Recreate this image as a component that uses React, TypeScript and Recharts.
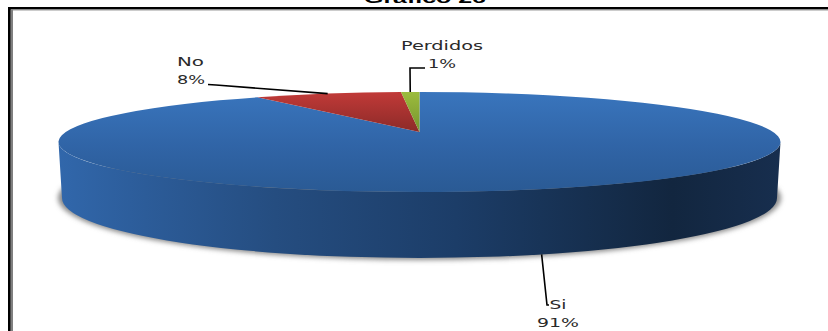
import React from "react";
import { PieChart, Pie } from "recharts";

// Survey answers, in the order they run clockwise from twelve o'clock.
const answers = ["Si", "No", "Perdidos"];
const shares = [91, 8, 1];
const fills = ["url(#topBlue)", "url(#topRed)", "url(#topGreen)"];
const chartTitle = "Gráfico 26";

const tableData = answers.map((name, i) => ({ name, value: shares[i], fill: fills[i] }));

// Disc geometry: a tilted cylinder seen in perspective.
const CX = 419.5;
const CY = 142;
const RX = 361;
const RY = 50;
const TILT = 0.2; // how far the disc's true centre sits behind the ellipse centre
const BASE_CY = 198;
const BASE_RX = 357.5;
const BASE_RY = 60;

const LABEL_FONT = "'DejaVu Sans', sans-serif";

// Text placement for each callout, and how its leader line bends.
const callouts: Record<string, any> = {
  Si: { nameX: 558, nameY: 309, nameW: 17, valueX: 558, valueY: 327, valueW: 42, elbow: [547, 305], end: [549, 305], onBase: true },
  No: { nameX: 190.5, nameY: 66, nameW: 27, valueX: 191, valueY: 84, valueW: 28, elbow: [216, 85], end: [208, 84.5], onBase: false },
  Perdidos: { nameX: 442, nameY: 50, nameW: 82, valueX: 442, valueY: 68, valueW: 28, elbow: [410, 68], end: [425, 68], onBase: false },
};

// Projects a pie angle onto the rim, keeping the disc's perspective.
function rimPoint(angleDeg: number) {
  const a = (angleDeg * Math.PI) / 180;
  const px = Math.cos(a);
  const py = Math.sin(a);
  const d = 1 + TILT * py;
  return {
    ux: (px * Math.sqrt(1 - TILT * TILT)) / d,
    uy: (py + TILT) / d,
  };
}

function GradientDefs() {
  return (
    <defs>
      <linearGradient id="topBlue" gradientUnits="userSpaceOnUse" x1="0" y1={CY - RY} x2="0" y2={CY + RY}>
        <stop offset="0" stopColor="#3975bd" />
        <stop offset="0.55" stopColor="#3064a6" />
        <stop offset="1" stopColor="#2a5a94" />
      </linearGradient>
      <linearGradient id="topRed" x1="0" y1="0" x2="0" y2="1">
        <stop offset="0" stopColor="#c13a38" />
        <stop offset="1" stopColor="#8c2a28" />
      </linearGradient>
      <linearGradient id="topGreen" x1="0" y1="0" x2="0" y2="1">
        <stop offset="0" stopColor="#9cbc3e" />
        <stop offset="1" stopColor="#76942e" />
      </linearGradient>
      <linearGradient id="wallBlue" gradientUnits="userSpaceOnUse" x1={CX - RX} y1="0" x2={CX + RX} y2="0">
        <stop offset="0" stopColor="#3167ab" />
        <stop offset="0.12" stopColor="#2c5c99" />
        <stop offset="0.3" stopColor="#254d80" />
        <stop offset="0.55" stopColor="#1c3d68" />
        <stop offset="0.85" stopColor="#12263f" />
        <stop offset="1" stopColor="#172e4e" />
      </linearGradient>
      <filter id="softShadow" x="-5%" y="-30%" width="110%" height="160%">
        <feGaussianBlur stdDeviation="2.5" />
      </filter>
    </defs>
  );
}

// Draws one slice as an elliptical wedge; the first slice also carries the
// cylinder wall and its shadow, so everything else lands on top of them.
function DiscSlice(props: any) {
  const { startAngle, endAngle, fill, index, name } = props;
  const s = rimPoint(startAngle);
  const e = rimPoint(endAngle);
  const t0 = Math.atan2(s.uy, s.ux);
  const t1 = Math.atan2(e.uy, e.ux);
  let sweep = ((t0 - t1) * 180) / Math.PI;
  while (sweep < 0) sweep += 360;
  const large = sweep > 180 ? 1 : 0;
  const apexY = CY - RY * TILT;
  const d = `M${CX},${apexY} L${CX + RX * s.ux},${CY - RY * s.uy} A${RX},${RY} 0 ${large} 1 ${CX + RX * e.ux},${CY - RY * e.uy} Z`;
  const first = index === 0 || name === answers[0];
  const wall = `M${CX - RX},${CY} L${CX - BASE_RX},${BASE_CY} A${BASE_RX},${BASE_RY} 0 0 0 ${CX + BASE_RX},${BASE_CY} L${CX + RX},${CY} A${RX},${RY} 0 0 1 ${CX - RX},${CY} Z`;
  return (
    <g>
      {first && (
        <>
          <GradientDefs />
          <ellipse cx={CX} cy={BASE_CY} rx={BASE_RX + 4} ry={BASE_RY + 2} fill="#8a8a8a" filter="url(#softShadow)" />
          <path d={wall} fill="url(#wallBlue)" />
        </>
      )}
      <path d={d} fill={fill} />
    </g>
  );
}

// Two-line callout with its leader line, anchored at the slice's mid angle.
function Callout(props: any) {
  const { name, midAngle, percent } = props;
  const c = callouts[name];
  if (!c) return null;
  const p = rimPoint(midAngle);
  const ax = CX + RX * p.ux;
  const ay = c.onBase
    ? BASE_CY + BASE_RY * Math.sqrt(1 - ((ax - CX) / BASE_RX) ** 2)
    : CY - RY * p.uy;
  const text = { fontFamily: LABEL_FONT, fontSize: 13, fill: "#2a2a2a", textAnchor: "middle" as const, lengthAdjust: "spacingAndGlyphs" as const };
  return (
    <g>
      <polyline
        points={`${ax},${ay} ${c.elbow[0]},${c.elbow[1]} ${c.end[0]},${c.end[1]}`}
        fill="none"
        stroke="#000"
        strokeWidth={1.6}
      />
      <text {...text} x={c.nameX} y={c.nameY} textLength={c.nameW}>{name}</text>
      <text {...text} x={c.valueX} y={c.valueY} textLength={c.valueW}>{`${Math.round(percent * 100)}%`}</text>
    </g>
  );
}

export default function App() {
  return (
    <div style={{ position: "absolute", left: 0, top: 0, width: 828, height: 331, background: "#fff" }}>
      <PieChart width={828} height={331} margin={{ top: 0, right: 0, bottom: 0, left: 0 }}>
        <rect x={8} y={7} width={820} height={2.4} fill="#000" />
        <rect x={8} y={7} width={2.7} height={324} fill="#000" />
        <rect x={11} y={9.4} width={817} height={1} fill="#808080" />
        <rect x={11} y={9.4} width={2} height={322} fill="#808080" />
        <text
          x={425}
          y={3}
          textAnchor="middle"
          fontFamily="'Liberation Sans', sans-serif"
          fontWeight="bold"
          fontSize={15}
          textLength={122}
          lengthAdjust="spacingAndGlyphs"
          fill="#000"
        >
          {chartTitle}
        </text>
        <Pie
          data={tableData}
          dataKey="value"
          nameKey="name"
          cx={CX}
          cy={CY}
          outerRadius={RX}
          startAngle={90}
          endAngle={-270}
          stroke="none"
          shape={DiscSlice}
          label={Callout}
          labelLine={false}
          isAnimationActive={false}
        />
      </PieChart>
    </div>
  );
}
